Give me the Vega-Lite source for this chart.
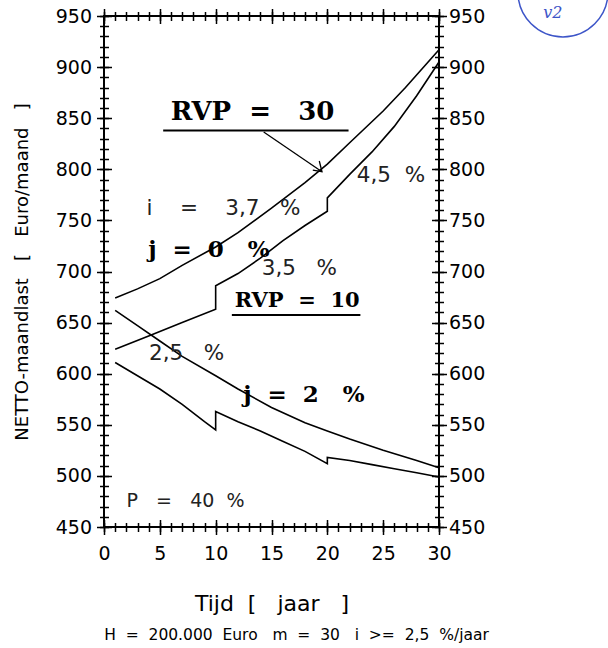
{
  "$schema": "https://vega.github.io/schema/vega-lite/v6.json",
  "width": 335,
  "height": 511,
  "autosize": {"type": "none"},
  "padding": {"left": 104, "top": 16, "right": 169, "bottom": 121},
  "background": "white",
  "config": {
    "view": {"stroke": "black", "strokeWidth": 2},
    "axis": {
      "domain": false,
      "grid": false,
      "tickColor": "black",
      "tickWidth": 1.5,
      "labelColor": "black",
      "labelFont": "DejaVu Sans",
      "labelFontSize": 19,
      "titleFont": "DejaVu Sans",
      "titleFontWeight": "normal",
      "titleColor": "black",
      "labelFlush": false,
      "labelOverlap": false
    }
  },
  "title": {
    "text": "H\u00a0\u00a0=\u00a0\u00a0200.000\u00a0\u00a0Euro\u00a0\u00a0\u00a0m\u00a0\u00a0=\u00a0\u00a030\u00a0\u00a0\u00a0i\u00a0\u00a0>=\u00a0\u00a02,5\u00a0\u00a0%/jaar",
    "orient": "bottom",
    "anchor": "middle",
    "frame": "group",
    "dx": 25,
    "offset": 13,
    "font": "DejaVu Sans",
    "fontSize": 15.5,
    "fontWeight": "normal",
    "color": "black"
  },
  "resolve": {"axis": {"x": "independent", "y": "independent"}},
  "layer": [
    {
      "data": {
        "values": [
          {"curve": "RVP30 j0", "k": 0, "t": 1, "v": 674},
          {"curve": "RVP30 j0", "k": 1, "t": 3, "v": 683},
          {"curve": "RVP30 j0", "k": 2, "t": 5, "v": 693},
          {"curve": "RVP30 j0", "k": 3, "t": 7, "v": 706},
          {"curve": "RVP30 j0", "k": 4, "t": 10, "v": 724},
          {"curve": "RVP30 j0", "k": 5, "t": 12, "v": 738},
          {"curve": "RVP30 j0", "k": 6, "t": 15, "v": 762},
          {"curve": "RVP30 j0", "k": 7, "t": 18, "v": 787},
          {"curve": "RVP30 j0", "k": 8, "t": 20, "v": 805},
          {"curve": "RVP30 j0", "k": 9, "t": 22, "v": 826},
          {"curve": "RVP30 j0", "k": 10, "t": 25, "v": 857},
          {"curve": "RVP30 j0", "k": 11, "t": 27, "v": 880},
          {"curve": "RVP30 j0", "k": 12, "t": 30, "v": 917},
          {"curve": "RVP10 j0", "k": 0, "t": 1, "v": 624},
          {"curve": "RVP10 j0", "k": 1, "t": 4, "v": 637},
          {"curve": "RVP10 j0", "k": 2, "t": 7, "v": 650},
          {"curve": "RVP10 j0", "k": 3, "t": 10, "v": 663},
          {"curve": "RVP10 j0", "k": 4, "t": 10, "v": 686},
          {"curve": "RVP10 j0", "k": 5, "t": 12, "v": 698},
          {"curve": "RVP10 j0", "k": 6, "t": 14, "v": 713},
          {"curve": "RVP10 j0", "k": 7, "t": 16, "v": 730},
          {"curve": "RVP10 j0", "k": 8, "t": 18, "v": 745},
          {"curve": "RVP10 j0", "k": 9, "t": 20, "v": 759},
          {"curve": "RVP10 j0", "k": 10, "t": 20, "v": 772},
          {"curve": "RVP10 j0", "k": 11, "t": 22, "v": 795},
          {"curve": "RVP10 j0", "k": 12, "t": 24, "v": 817},
          {"curve": "RVP10 j0", "k": 13, "t": 26, "v": 842},
          {"curve": "RVP10 j0", "k": 14, "t": 28, "v": 872},
          {"curve": "RVP10 j0", "k": 15, "t": 30, "v": 905},
          {"curve": "RVP30 j2", "k": 0, "t": 1, "v": 662},
          {"curve": "RVP30 j2", "k": 1, "t": 3, "v": 647},
          {"curve": "RVP30 j2", "k": 2, "t": 5, "v": 632},
          {"curve": "RVP30 j2", "k": 3, "t": 7, "v": 617},
          {"curve": "RVP30 j2", "k": 4, "t": 10, "v": 598},
          {"curve": "RVP30 j2", "k": 5, "t": 12, "v": 585},
          {"curve": "RVP30 j2", "k": 6, "t": 15, "v": 567},
          {"curve": "RVP30 j2", "k": 7, "t": 18, "v": 552},
          {"curve": "RVP30 j2", "k": 8, "t": 20, "v": 544},
          {"curve": "RVP30 j2", "k": 9, "t": 22, "v": 536},
          {"curve": "RVP30 j2", "k": 10, "t": 25, "v": 525},
          {"curve": "RVP30 j2", "k": 11, "t": 28, "v": 515},
          {"curve": "RVP30 j2", "k": 12, "t": 30, "v": 508},
          {"curve": "RVP10 j2", "k": 0, "t": 1, "v": 611},
          {"curve": "RVP10 j2", "k": 1, "t": 3, "v": 598},
          {"curve": "RVP10 j2", "k": 2, "t": 5, "v": 585},
          {"curve": "RVP10 j2", "k": 3, "t": 7, "v": 570},
          {"curve": "RVP10 j2", "k": 4, "t": 9, "v": 553},
          {"curve": "RVP10 j2", "k": 5, "t": 10, "v": 545},
          {"curve": "RVP10 j2", "k": 6, "t": 10, "v": 563},
          {"curve": "RVP10 j2", "k": 7, "t": 12, "v": 553},
          {"curve": "RVP10 j2", "k": 8, "t": 14, "v": 544},
          {"curve": "RVP10 j2", "k": 9, "t": 16, "v": 534},
          {"curve": "RVP10 j2", "k": 10, "t": 18, "v": 524},
          {"curve": "RVP10 j2", "k": 11, "t": 20, "v": 512},
          {"curve": "RVP10 j2", "k": 12, "t": 20, "v": 518},
          {"curve": "RVP10 j2", "k": 13, "t": 22, "v": 515},
          {"curve": "RVP10 j2", "k": 14, "t": 24, "v": 511},
          {"curve": "RVP10 j2", "k": 15, "t": 26, "v": 507},
          {"curve": "RVP10 j2", "k": 16, "t": 28, "v": 503},
          {"curve": "RVP10 j2", "k": 17, "t": 30, "v": 499}
        ]
      },
      "mark": {"type": "line", "color": "black", "strokeWidth": 1.6},
      "encoding": {
        "x": {
          "field": "t", "type": "quantitative", "scale": {"domain": [0, 30]},
          "axis": {"orient": "bottom", "values": [0, 5, 10, 15, 20, 25, 30], "tickSize": 15, "offset": -7.5, "labelPadding": 10, "title": "Tijd\u00a0\u00a0[\u00a0\u00a0\u00a0jaar\u00a0\u00a0\u00a0]", "titleFontSize": 22, "titlePadding": 30}
        },
        "y": {
          "field": "v", "type": "quantitative", "scale": {"domain": [450, 950]},
          "axis": {"orient": "left", "values": [450, 500, 550, 600, 650, 700, 750, 800, 850, 900, 950], "tickSize": 15, "offset": -7.5, "labelPadding": 5, "title": "NETTO-maandlast\u00a0\u00a0\u00a0[\u00a0\u00a0\u00a0Euro/maand\u00a0\u00a0\u00a0]", "titleFontSize": 18, "titlePadding": 24}
        },
        "detail": {"field": "curve"},
        "order": {"field": "k"}
      }
    },
    {
      "data": {
        "values": [
          {"part": "shaft", "k": 0, "t": 14.3, "v": 836.5},
          {"part": "shaft", "k": 1, "t": 19.52, "v": 797.6},
          {"part": "head", "k": 0, "t": 18.7, "v": 799.3},
          {"part": "head", "k": 1, "t": 19.52, "v": 797.6},
          {"part": "head", "k": 2, "t": 19.28, "v": 808.1}
        ]
      },
      "mark": {"type": "line", "color": "black", "strokeWidth": 1.3},
      "encoding": {
        "x": {
          "field": "t", "type": "quantitative", "scale": {"domain": [0, 30]},
          "axis": {"orient": "bottom", "values": [0,1,2,3,4,5,6,7,8,9,10,11,12,13,14,15,16,17,18,19,20,21,22,23,24,25,26,27,28,29,30], "tickSize": 9, "offset": -4.5, "labels": false, "title": null}
        },
        "y": {
          "field": "v", "type": "quantitative", "scale": {"domain": [450, 950]},
          "axis": {"orient": "left", "values": [450,460,470,480,490,500,510,520,530,540,550,560,570,580,590,600,610,620,630,640,650,660,670,680,690,700,710,720,730,740,750,760,770,780,790,800,810,820,830,840,850,860,870,880,890,900,910,920,930,940,950], "tickSize": 9, "offset": -4.5, "labels": false, "title": null}
        },
        "detail": {"field": "part"},
        "order": {"field": "k"}
      }
    },
    {
      "data": {
        "values": [
          {"t": 5.3, "t2": 21.9, "v": 838},
          {"t": 11.45, "t2": 22.96, "v": 657.5}
        ]
      },
      "mark": {"type": "rule", "color": "black", "strokeWidth": 2},
      "encoding": {
        "x": {
          "field": "t", "type": "quantitative", "scale": {"domain": [0, 30]},
          "axis": {"orient": "top", "values": [0, 5, 10, 15, 20, 25, 30], "tickSize": 15, "offset": -7.5, "labels": false, "title": null}
        },
        "x2": {"field": "t2"},
        "y": {
          "field": "v", "type": "quantitative", "scale": {"domain": [450, 950]},
          "axis": {"orient": "right", "values": [450, 500, 550, 600, 650, 700, 750, 800, 850, 900, 950], "tickSize": 15, "offset": -7.5, "labelPadding": 2, "title": null}
        }
      }
    },
    {
      "data": {"values": [{"t": 13.3, "v": 848, "label": "RVP\u00a0\u00a0=\u00a0\u00a0\u00a030"}]},
      "mark": {"type": "text", "font": "DejaVu Serif", "fontWeight": "bold", "fontSize": 26, "align": "center", "baseline": "alphabetic", "color": "black"},
      "encoding": {
        "x": {
          "field": "t", "type": "quantitative", "scale": {"domain": [0, 30]},
          "axis": {"orient": "top", "values": [0,1,2,3,4,5,6,7,8,9,10,11,12,13,14,15,16,17,18,19,20,21,22,23,24,25,26,27,28,29,30], "tickSize": 9, "offset": -4.5, "labels": false, "title": null}
        },
        "y": {
          "field": "v", "type": "quantitative", "scale": {"domain": [450, 950]},
          "axis": {"orient": "right", "values": [450,460,470,480,490,500,510,520,530,540,550,560,570,580,590,600,610,620,630,640,650,660,670,680,690,700,710,720,730,740,750,760,770,780,790,800,810,820,830,840,850,860,870,880,890,900,910,920,930,940,950], "tickSize": 9, "offset": -4.5, "labels": false, "title": null}
        },
        "text": {"field": "label"}
      }
    },
    {
      "data": {"values": [{"t": 17.3, "v": 665, "label": "RVP\u00a0\u00a0=\u00a0\u00a010"}]},
      "mark": {"type": "text", "font": "DejaVu Serif", "fontWeight": "bold", "fontSize": 21, "align": "center", "baseline": "alphabetic", "color": "black"},
      "encoding": {
        "x": {"field": "t", "type": "quantitative", "scale": {"domain": [0, 30]}, "axis": null},
        "y": {"field": "v", "type": "quantitative", "scale": {"domain": [450, 950]}, "axis": null},
        "text": {"field": "label"}
      }
    },
    {
      "data": {"values": [
        {"t": 9.4, "v": 714, "label": "j\u00a0\u00a0=\u00a0\u00a00\u00a0\u00a0\u00a0%"},
        {"t": 17.9, "v": 572, "label": "j\u00a0\u00a0=\u00a0\u00a02\u00a0\u00a0\u00a0%"}
      ]},
      "mark": {"type": "text", "font": "DejaVu Serif", "fontWeight": "bold", "fontSize": 23, "align": "center", "baseline": "alphabetic", "color": "black"},
      "encoding": {
        "x": {"field": "t", "type": "quantitative", "scale": {"domain": [0, 30]}, "axis": null},
        "y": {"field": "v", "type": "quantitative", "scale": {"domain": [450, 950]}, "axis": null},
        "text": {"field": "label"}
      }
    },
    {
      "data": {"values": [
        {"t": 25.7, "v": 787.6, "label": "4,5\u00a0\u00a0%"},
        {"t": 10.7, "v": 755, "label": "i\u00a0\u00a0\u00a0\u00a0=\u00a0\u00a0\u00a0\u00a03,7\u00a0\u00a0\u00a0%"},
        {"t": 17.5, "v": 696.6, "label": "3,5\u00a0\u00a0\u00a0%"},
        {"t": 7.4, "v": 613.4, "label": "2,5\u00a0\u00a0\u00a0%"}
      ]},
      "mark": {"type": "text", "font": "DejaVu Sans", "fontSize": 21.5, "align": "center", "baseline": "alphabetic", "color": "#222"},
      "encoding": {
        "x": {"field": "t", "type": "quantitative", "scale": {"domain": [0, 30]}, "axis": null},
        "y": {"field": "v", "type": "quantitative", "scale": {"domain": [450, 950]}, "axis": null},
        "text": {"field": "label"}
      }
    },
    {
      "data": {"values": [{"t": 7.3, "v": 469.6, "label": "P\u00a0\u00a0\u00a0=\u00a0\u00a0\u00a040\u00a0\u00a0%"}]},
      "mark": {"type": "text", "font": "DejaVu Sans", "fontSize": 19, "align": "center", "baseline": "alphabetic", "color": "#222"},
      "encoding": {
        "x": {"field": "t", "type": "quantitative", "scale": {"domain": [0, 30]}, "axis": null},
        "y": {"field": "v", "type": "quantitative", "scale": {"domain": [450, 950]}, "axis": null},
        "text": {"field": "label"}
      }
    },
    {
      "data": {"values": [{"t": 41.1, "v": 973.5}]},
      "mark": {"type": "point", "shape": "circle", "filled": false, "size": 8100, "stroke": "#3d55c8", "strokeWidth": 1.5, "opacity": 1},
      "encoding": {
        "x": {"field": "t", "type": "quantitative", "scale": {"domain": [0, 30]}, "axis": null},
        "y": {"field": "v", "type": "quantitative", "scale": {"domain": [450, 950]}, "axis": null}
      }
    },
    {
      "data": {"values": [{"t": 40.2, "v": 953, "label": "v2"}]},
      "mark": {"type": "text", "font": "DejaVu Serif", "fontStyle": "italic", "fontSize": 16, "align": "center", "baseline": "middle", "color": "#3d55c8"},
      "encoding": {
        "x": {"field": "t", "type": "quantitative", "scale": {"domain": [0, 30]}, "axis": null},
        "y": {"field": "v", "type": "quantitative", "scale": {"domain": [450, 950]}, "axis": null},
        "text": {"field": "label"}
      }
    }
  ]
}
